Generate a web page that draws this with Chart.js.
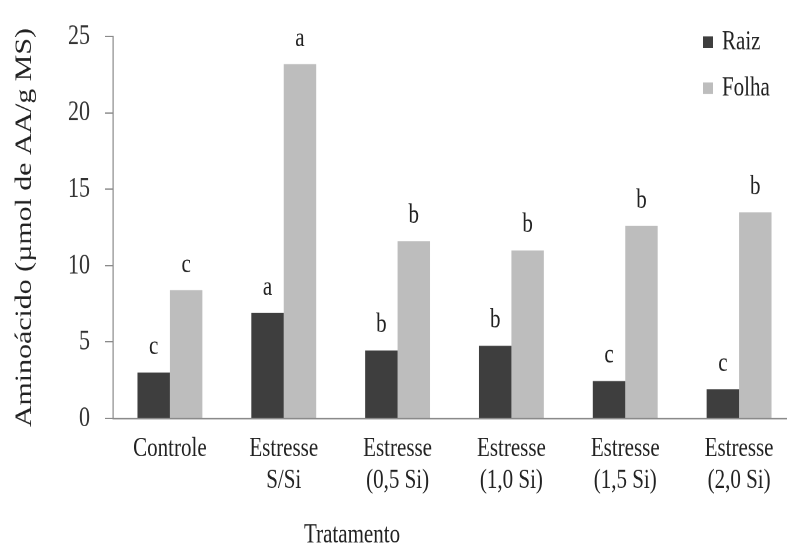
<!DOCTYPE html>
<html>
<head>
<meta charset="utf-8">
<script src="https://cdn.jsdelivr.net/npm/chart.js@4"></script>
<style>
    html, body { margin: 0; padding: 0; background: #fff; overflow: hidden; }
    #frame { width: 787px; height: 547px; overflow: hidden; position: relative; }
    #stretch { transform: scaleY(1.2993); transform-origin: 0 0; width: 800px; height: 421px; }
    #chart { width: 800px; height: 421px; display: block; }
</style>
</head>
<body>
<div id="frame"><div id="stretch"><canvas id="chart" width="800" height="421"></canvas></div></div>
<script>
// Aminoácido em raiz e folha por tratamento
const categories = [
    ['Controle'],
    ['Estresse', 'S/Si'],
    ['Estresse', '(0,5 Si)'],
    ['Estresse', '(1,0 Si)'],
    ['Estresse', '(1,5 Si)'],
    ['Estresse', '(2,0 Si)'],
];
const raizValues = [3.0, 6.9, 4.45, 4.75, 2.45, 1.9];
const folhaValues = [8.4, 23.2, 11.6, 11.0, 12.6, 13.5];
const raizLetters = ['c', 'a', 'b', 'b', 'c', 'c'];
const folhaLetters = ['c', 'a', 'b', 'b', 'b', 'b'];
const yTicks = [0, 5, 10, 15, 20, 25];

const FONT = '"Liberation Serif", "Times New Roman", serif';
const AXIS = '#8a8a8a';
const INK = '#222';

// letras de significância acima das barras
const letterPlugin = {
    id: 'letters',
    afterDatasetsDraw(chart) {
        const ctx = chart.ctx;
        ctx.save();
        ctx.font = `21px ${FONT}`;
        ctx.fillStyle = INK;
        ctx.textAlign = 'center';
        ctx.textBaseline = 'alphabetic';
        chart.data.datasets.forEach((ds, i) => {
            chart.getDatasetMeta(i).data.forEach((bar, j) => {
                ctx.fillText(ds.letters[j], bar.x, bar.y - 14);
            });
        });
        ctx.restore();
    }
};

// legenda empilhada no canto superior direito + título do eixo x
const sidePlugin = {
    id: 'side',
    afterDraw(chart) {
        const ctx = chart.ctx;
        const area = chart.chartArea;
        ctx.save();
        ctx.font = `21px ${FONT}`;
        ctx.textBaseline = 'middle';
        chart.data.datasets.forEach((ds, i) => {
            const y = 32.5 + i * 35.4;
            ctx.fillStyle = ds.backgroundColor;
            ctx.fillRect(703, y - 4.5, 10, 9);
            ctx.fillStyle = INK;
            ctx.textAlign = 'left';
            ctx.fillText(ds.label, 722, y);
        });
        ctx.textAlign = 'center';
        ctx.fillText('Tratamento', area.left + (area.right - area.left) * 0.35, 412);
        ctx.restore();
    }
};

new Chart(document.getElementById('chart'), {
    type: 'bar',
    data: {
        labels: categories,
        datasets: [
            { label: 'Raiz', data: raizValues, letters: raizLetters, backgroundColor: '#3e3e3e' },
            { label: 'Folha', data: folhaValues, letters: folhaLetters, backgroundColor: '#bdbdbd' },
        ]
    },
    options: {
        responsive: false,
        animation: false,
        devicePixelRatio: 2,
        layout: { padding: { top: 19, right: 4, left: 0, bottom: 0 } },
        datasets: { bar: { barPercentage: 1, categoryPercentage: 0.57 } },
        scales: {
            x: {
                grid: { display: false, drawTicks: false },
                border: { display: true, color: AXIS, width: 1.2 },
                ticks: {
                    color: INK, padding: 11, maxRotation: 0, autoSkip: false,
                    font: { family: FONT, size: 21, lineHeight: 1.17 }
                },
                afterFit: s => { s.height = 99; }
            },
            y: {
                min: 0, max: 25,
                afterBuildTicks: s => { s.ticks = yTicks.map(v => ({ value: v })); },
                grid: { display: true, drawOnChartArea: false, drawTicks: true, tickLength: 8, color: AXIS },
                border: { display: true, color: AXIS, width: 1.2 },
                ticks: { color: '#333', padding: 15, font: { family: FONT, size: 22 } },
                title: {
                    display: true, text: 'Aminoácido (µmol de AA/g MS)', color: INK,
                    padding: { top: 11 }, font: { family: FONT, size: 23, lineHeight: 1.2 }
                },
                afterFit: s => { s.width = 113; }
            }
        },
        plugins: {
            legend: { display: false },
            tooltip: { enabled: false }
        }
    },
    plugins: [letterPlugin, sidePlugin]
});
</script>
</body>
</html>
